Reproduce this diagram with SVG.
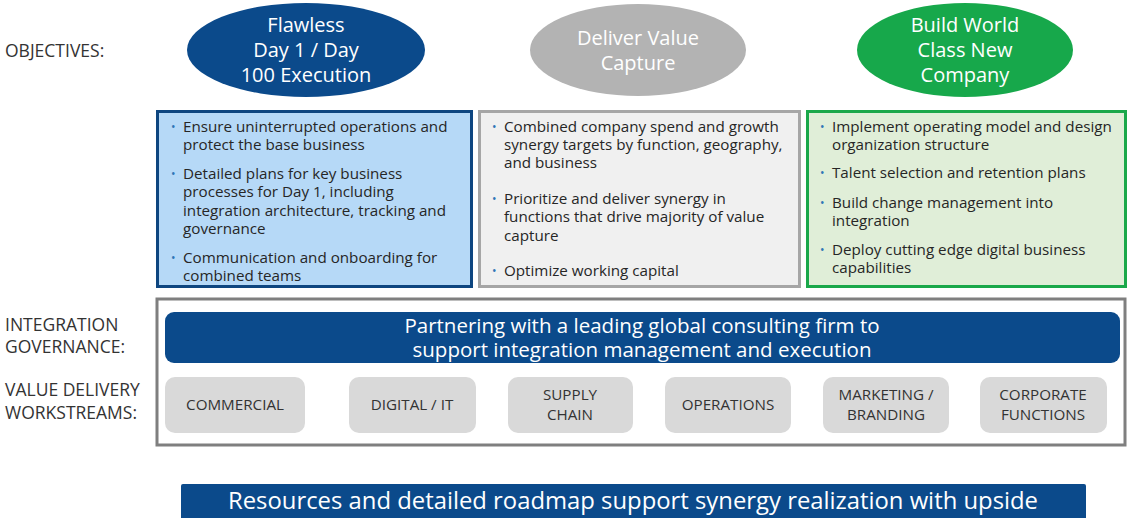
<svg xmlns="http://www.w3.org/2000/svg" width="1128" height="518" viewBox="0 0 1128 518">
<style>
text{font-family:"Open Sans","Liberation Sans",sans-serif}
.lbl{font-size:17.5px;fill:#333}
.ell{font-size:20px;fill:#fff;text-anchor:middle}
.bt{font-size:15.2px;fill:#262626}
.bu{font-size:12px;fill:#2e75b6}
.ws{fill:#d9d9d9}
.wt{font-size:15.2px;fill:#333;text-anchor:middle}
.gov{font-size:20.5px;fill:#fff;text-anchor:middle}
</style>
<rect width="1128" height="518" fill="#fff"/>
<g id="labels">
<text class="lbl" x="5" y="57">OBJECTIVES:</text>
<text class="lbl" x="5" y="331">INTEGRATION</text>
<text class="lbl" x="5" y="353">GOVERNANCE:</text>
<text class="lbl" x="5" y="396">VALUE DELIVERY</text>
<text class="lbl" x="5" y="419">WORKSTREAMS:</text>
</g>
<g id="obj1">
<ellipse cx="306" cy="50" rx="119" ry="47" fill="#0b4a8b"/>
<text class="ell" x="306" y="32">Flawless</text>
<text class="ell" x="306" y="57">Day 1 / Day</text>
<text class="ell" x="306" y="82">100 Execution</text>
</g>
<g id="obj2">
<ellipse cx="638" cy="50" rx="108" ry="46" fill="#b3b3b3"/>
<text class="ell" x="638" y="45">Deliver Value</text>
<text class="ell" x="638" y="70">Capture</text>
</g>
<g id="obj3">
<ellipse cx="965" cy="50" rx="108" ry="47" fill="#17a84b"/>
<text class="ell" x="965" y="32">Build World</text>
<text class="ell" x="965" y="57">Class New</text>
<text class="ell" x="965" y="82">Company</text>
</g>
<g id="box1">
<rect x="157.5" y="111.5" width="314" height="175" fill="#b6d9f7" stroke="#0e4680" stroke-width="3"/>
<text class="bu" x="171" y="131">•</text>
<text class="bt" x="183" y="132">Ensure uninterrupted operations and</text>
<text class="bt" x="183" y="150">protect the base business</text>
<text class="bu" x="171" y="178">•</text>
<text class="bt" x="183" y="179">Detailed plans for key business</text>
<text class="bt" x="183" y="197">processes for Day 1, including</text>
<text class="bt" x="183" y="216">integration architecture, tracking and</text>
<text class="bt" x="183" y="234">governance</text>
<text class="bu" x="171" y="262">•</text>
<text class="bt" x="183" y="263">Communication and onboarding for</text>
<text class="bt" x="183" y="281">combined teams</text>
</g>
<g id="box2">
<rect x="479.5" y="111.5" width="320" height="175" fill="#f0f0f0" stroke="#a6a6a6" stroke-width="3"/>
<text class="bu" x="492" y="131">•</text>
<text class="bt" x="504" y="132">Combined company spend and growth</text>
<text class="bt" x="504" y="150">synergy targets by function, geography,</text>
<text class="bt" x="504" y="168">and business</text>
<text class="bu" x="492" y="203">•</text>
<text class="bt" x="504" y="204">Prioritize and deliver synergy in</text>
<text class="bt" x="504" y="222">functions that drive majority of value</text>
<text class="bt" x="504" y="241">capture</text>
<text class="bu" x="492" y="275">•</text>
<text class="bt" x="504" y="276">Optimize working capital</text>
</g>
<g id="box3">
<rect x="807.5" y="111.5" width="318" height="175" fill="#e0eed8" stroke="#1aa84a" stroke-width="3"/>
<text class="bu" x="820" y="131">•</text>
<text class="bt" x="832" y="132">Implement operating model and design</text>
<text class="bt" x="832" y="150">organization structure</text>
<text class="bu" x="820" y="177">•</text>
<text class="bt" x="832" y="178">Talent selection and retention plans</text>
<text class="bu" x="820" y="207">•</text>
<text class="bt" x="832" y="208">Build change management into</text>
<text class="bt" x="832" y="226">integration</text>
<text class="bu" x="820" y="254">•</text>
<text class="bt" x="832" y="255">Deploy cutting edge digital business</text>
<text class="bt" x="832" y="273">capabilities</text>
</g>
<g id="governance">
<rect x="157" y="299" width="968" height="146" fill="#fff" stroke="#7f7f7f" stroke-width="3"/>
<rect x="165" y="312" width="955" height="51" rx="9" fill="#0b4a8b"/>
<text class="gov" x="642" y="333">Partnering with a leading global consulting firm to</text>
<text class="gov" x="642" y="357">support integration management and execution</text>
</g>
<g id="ws1"><rect class="ws" x="165" y="377" width="140" height="56" rx="10"/><text class="wt" x="235" y="410">COMMERCIAL</text></g>
<g id="ws2"><rect class="ws" x="349" y="377" width="127" height="56" rx="10"/><text class="wt" x="412" y="410">DIGITAL / IT</text></g>
<g id="ws3"><rect class="ws" x="508" y="377" width="125" height="56" rx="10"/><text class="wt" x="570" y="400">SUPPLY</text><text class="wt" x="570" y="420">CHAIN</text></g>
<g id="ws4"><rect class="ws" x="665" y="377" width="126" height="56" rx="10"/><text class="wt" x="728" y="410">OPERATIONS</text></g>
<g id="ws5"><rect class="ws" x="823" y="377" width="126" height="56" rx="10"/><text class="wt" x="886" y="400">MARKETING /</text><text class="wt" x="886" y="420">BRANDING</text></g>
<g id="ws6"><rect class="ws" x="980" y="377" width="127" height="56" rx="10"/><text class="wt" x="1043" y="400">CORPORATE</text><text class="wt" x="1043" y="420">FUNCTIONS</text></g>
<g id="banner">
<rect x="181" y="484" width="905" height="40" rx="2" fill="#0b4a8b"/>
<text x="633" y="509" font-size="23" fill="#fff" text-anchor="middle" textLength="810" lengthAdjust="spacingAndGlyphs">Resources and detailed roadmap support synergy realization with upside</text>
</g>
<g id="connectors"></g>
</svg>
